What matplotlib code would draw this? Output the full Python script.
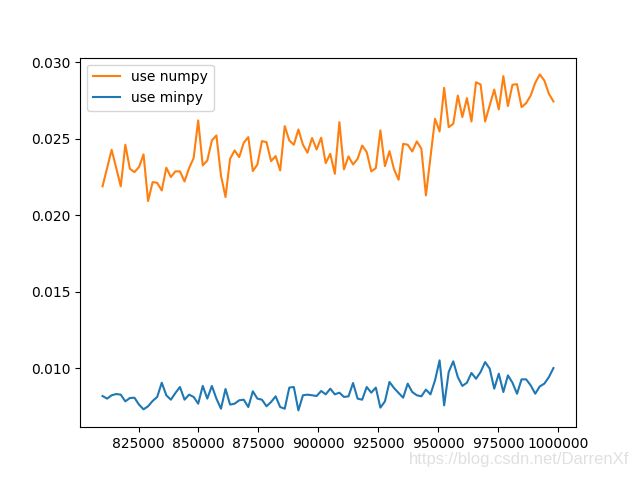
import numpy as np
import matplotlib
matplotlib.use("Agg")
import matplotlib.pyplot as plt

# x: problem size, 100 steps of 1900 starting at 810000
sizes = np.arange(810000, 1000000, 1900)

numpy_time = [
    0.02190, 0.02310, 0.02429, 0.02310, 0.02190, 0.02462, 0.02305, 0.02283, 0.02316, 0.02399,
    0.02094, 0.02218, 0.02213, 0.02163, 0.02312, 0.02251, 0.02288, 0.02288, 0.02222, 0.02309,
    0.02375, 0.02621, 0.02327, 0.02359, 0.02490, 0.02523, 0.02261, 0.02120, 0.02370, 0.02425,
    0.02381, 0.02475, 0.02512, 0.02290, 0.02333, 0.02486, 0.02479, 0.02355, 0.02388, 0.02294,
    0.02584, 0.02490, 0.02462, 0.02562, 0.02462, 0.02410, 0.02506, 0.02431, 0.02508, 0.02342,
    0.02403, 0.02272, 0.02610, 0.02301, 0.02386, 0.02333, 0.02370, 0.02457, 0.02414, 0.02288,
    0.02309, 0.02556, 0.02322, 0.02420, 0.02301, 0.02233, 0.02468, 0.02462, 0.02418, 0.02484,
    0.02436, 0.02131, 0.02381, 0.02632, 0.02549, 0.02834, 0.02577, 0.02599, 0.02784, 0.02643,
    0.02767, 0.02614, 0.02871, 0.02856, 0.02614, 0.02719, 0.02823, 0.02693, 0.02911, 0.02715,
    0.02854, 0.02858, 0.02708, 0.02734, 0.02784, 0.02867, 0.02922, 0.02882, 0.02795, 0.02745,
]

minpy_time = [
    0.00819, 0.00802, 0.00824, 0.00832, 0.00828, 0.00784, 0.00806, 0.00808, 0.00763, 0.00732,
    0.00752, 0.00787, 0.00813, 0.00906, 0.00824, 0.00795, 0.00839, 0.00878, 0.00795, 0.00828,
    0.00813, 0.00769, 0.00885, 0.00802, 0.00885, 0.00802, 0.00736, 0.00865, 0.00763, 0.00769,
    0.00791, 0.00795, 0.00747, 0.00850, 0.00802, 0.00795, 0.00752, 0.00780, 0.00817, 0.00747,
    0.00736, 0.00874, 0.00878, 0.00725, 0.00824, 0.00828, 0.00824, 0.00819, 0.00852, 0.00830,
    0.00867, 0.00830, 0.00841, 0.00813, 0.00817, 0.00904, 0.00802, 0.00795, 0.00878, 0.00841,
    0.00874, 0.00743, 0.00784, 0.00911, 0.00871, 0.00839, 0.00808, 0.00900, 0.00845, 0.00824,
    0.00817, 0.00861, 0.00830, 0.00922, 0.01052, 0.00758, 0.00976, 0.01046, 0.00943, 0.00885,
    0.00906, 0.00970, 0.00932, 0.00976, 0.01041, 0.00998, 0.00867, 0.00965, 0.00845, 0.00954,
    0.00906, 0.00834, 0.00928, 0.00928, 0.00889, 0.00834, 0.00882, 0.00900, 0.00943, 0.01002,
]

fig = plt.figure(figsize=(6.4, 4.8), dpi=100)
plt.plot(sizes, numpy_time, color="C1", label="use numpy")
plt.plot(sizes, minpy_time, color="C0", label="use minpy")
plt.legend(loc="upper left")
plt.ticklabel_format(axis="x", style="plain", useOffset=False)

# watermark
fig.text(0.983, 0.028, "https://blog.csdn.net/DarrenXf", ha="right", va="bottom",
         fontsize=12, color="#e0e0e0", family="Liberation Sans")

plt.savefig("out.png", dpi=100)
